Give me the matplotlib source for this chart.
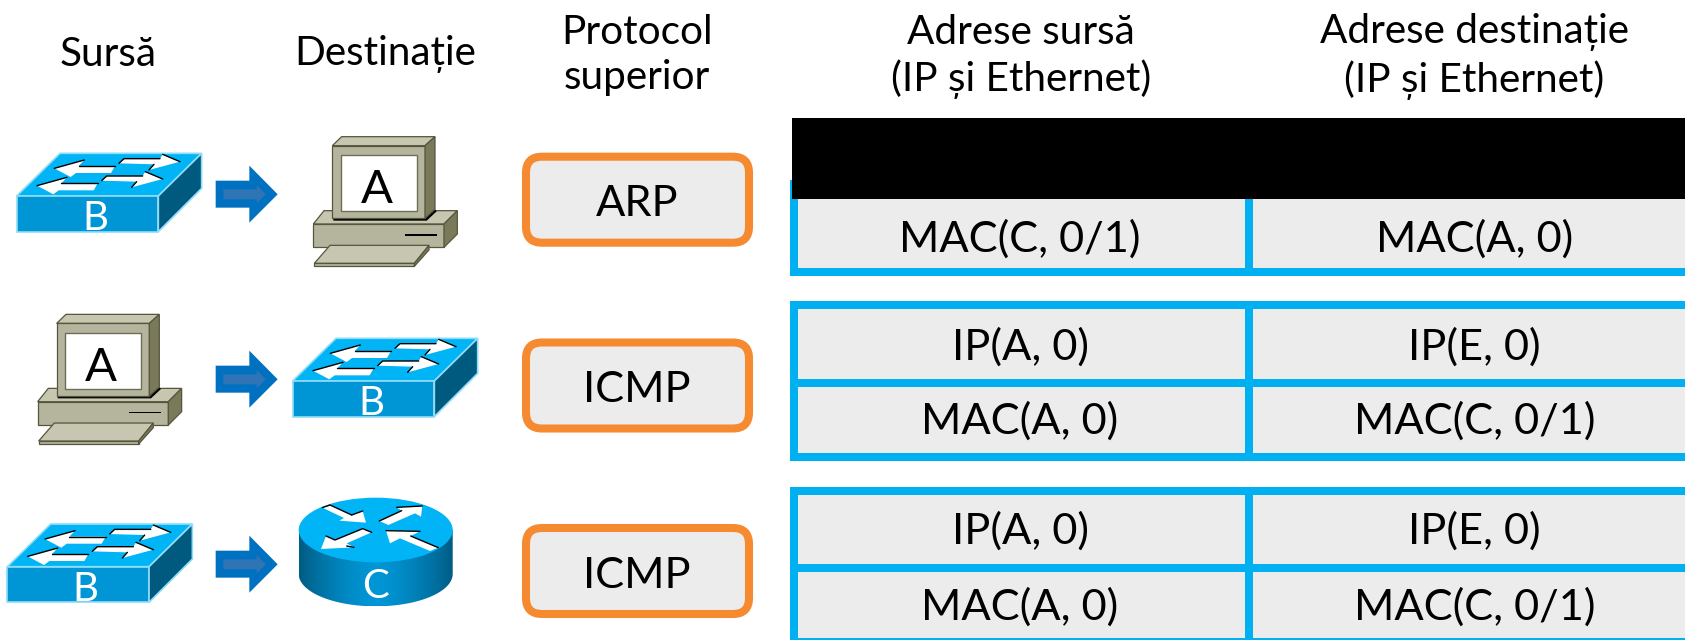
import numpy as np
import matplotlib
matplotlib.use("Agg")
import matplotlib.pyplot as plt
from matplotlib.patches import Polygon, Rectangle, FancyBboxPatch, Ellipse, PathPatch
from matplotlib.path import Path

plt.rcParams["font.family"] = ["Lato", "DejaVu Sans"]

# Texte
antete = ["Sursă", "Destinație", "Protocol\nsuperior",
          "Adrese sursă\n(IP și Ethernet)", "Adrese destinație\n(IP și Ethernet)"]
protocoale = ["ARP", "ICMP", "ICMP"]
adrese_sursa = [["", "MAC(C, 0/1)"], ["IP(A, 0)", "MAC(A, 0)"], ["IP(A, 0)", "MAC(A, 0)"]]
adrese_dest = [["", "MAC(A, 0)"], ["IP(E, 0)", "MAC(C, 0/1)"], ["IP(E, 0)", "MAC(C, 0/1)"]]

ALBASTRU = "#00B0F0"
GRI = "#ECECEC"
PORTOCALIU = "#F68A31"

fig = plt.figure(figsize=(16.85, 6.40), dpi=100)
ax = fig.add_axes([0, 0, 1, 1])
ax.set_xlim(0, 1685)
ax.set_ylim(640, 0)
ax.axis("off")


# punctele de mai jos sunt luate din crop-uri marite de 3 ori
def poligon(puncte, dx, dy, **kw):
    p = np.array(puncte, dtype=float) / 3 + [dx, dy]
    ax.add_patch(Polygon(p, closed=True, **kw))


def linie(puncte, dx, dy, **kw):
    s = np.array(puncte, dtype=float) / 3 + [dx, dy]
    ax.plot(s[:, 0], s[:, 1], color="black", solid_capstyle="round", **kw)


def desen_switch(dx, dy):
    muchie = "#8FDDF7"
    poligon([(50, 258), (180, 130), (605, 130), (475, 258)], dx, dy, fc="#00B4F5", ec=muchie, lw=1.2)
    poligon([(50, 258), (475, 258), (475, 365), (50, 365)], dx, dy, fc="#0096D6", ec=muchie, lw=1.2)
    poligon([(475, 258), (605, 130), (605, 235), (475, 365)], dx, dy, fc="#005A80", ec=muchie, lw=1.2)
    for ox, oy in [(0, 0), (-52, 52)]:
        stanga = [(163 + ox, 175 + oy), (253 + ox, 150 + oy), (236 + ox, 168 + oy), (345 + ox, 168 + oy),
                  (333 + ox, 189 + oy), (228 + ox, 189 + oy), (212 + ox, 201 + oy)]
        dreapta = [(357 + ox, 160 + oy), (372 + ox, 146 + oy), (480 + ox, 146 + oy), (488 + ox, 133 + oy),
                   (540 + ox, 155 + oy), (447 + ox, 180 + oy), (462 + ox, 163 + oy)]
        poligon(stanga, dx, dy, fc="white", ec="none")
        poligon(dreapta, dx, dy, fc="white", ec="none")
        for sir in [stanga[:2], stanga[2:4], dreapta[:3], dreapta[3:5], dreapta[5:7]]:
            linie(sir, dx, dy, lw=1.0)
    ax.text(285 / 3 + dx, 316 / 3 + dy, "B", color="white", fontsize=29, ha="center", va="center_baseline")


def desen_sageata(dy):
    poligon([(647, 212), (748, 212), (748, 167), (833, 253), (748, 338), (748, 293), (647, 293)],
            0, dy, fc="#0070C0", ec="none")
    poligon([(670, 238), (770, 238), (770, 225), (798, 253), (770, 280), (770, 268), (670, 268)],
            0, dy, fc="#2F74B5", ec="none")


def desen_pc(dx, dy):
    fata = "#B5B49C"
    sus = "#C7C6B0"
    lateral = "#7A7A5A"
    muchie = "#56563F"
    kw = dict(ec=muchie, lw=0.9)
    poligon([(940, 342), (972, 302), (1372, 302), (1332, 342)], dx, dy, fc=sus, **kw)
    poligon([(940, 342), (1332, 342), (1332, 412), (940, 412)], dx, dy, fc=fata, **kw)
    poligon([(1332, 342), (1372, 302), (1372, 372), (1332, 412)], dx, dy, fc=lateral, **kw)
    poligon([(1000, 325), (1275, 325), (1305, 298), (1310, 304), (1280, 332), (1000, 332)], dx, dy, fc="black", ec="none")
    poligon([(997, 107), (1025, 80), (1305, 80), (1275, 107)], dx, dy, fc=sus, **kw)
    poligon([(997, 107), (1275, 107), (1275, 325), (997, 325)], dx, dy, fc=fata, **kw)
    poligon([(1275, 107), (1305, 80), (1305, 298), (1275, 325)], dx, dy, fc=lateral, **kw)
    poligon([(1022, 135), (1250, 135), (1250, 303), (1022, 303)], dx, dy, fc="white", ec="#6E6E58", lw=1.0)
    poligon([(1215, 372), (1310, 372), (1310, 377), (1215, 377)], dx, dy, fc="black", ec="none")
    poligon([(943, 460), (990, 406), (1287, 406), (1243, 460)], dx, dy, fc=sus, **kw)
    poligon([(943, 460), (1243, 460), (1243, 469), (943, 469)], dx, dy, fc=fata, **kw)
    poligon([(1243, 460), (1287, 406), (1287, 420), (1243, 469)], dx, dy, fc=lateral, **kw)
    ax.text(1130 / 3 + dx, 228 / 3 + dy, "A", color="black", fontsize=34, ha="center", va="center_baseline")


def desen_router(cx, y_sus, y_jos):
    rx, ry = 231 / 3, 97 / 3
    # corpul cu gradient pe orizontala
    t = np.linspace(-1, 1, 256)
    grad = np.abs(t) ** 1.5
    c1 = np.array([0, 150, 214]) / 255
    c2 = np.array([0, 92, 132]) / 255
    img = (c1[None, :] * (1 - grad[:, None]) + c2[None, :] * grad[:, None])[None, :, :]
    u = np.linspace(np.pi, 0, 60)
    jos = np.column_stack([cx + rx * np.cos(u), y_jos + ry * np.sin(u)])
    contur = np.vstack([[[cx - rx, y_sus]], jos, [[cx + rx, y_sus]], [[cx - rx, y_sus]]])
    forma = PathPatch(Path(contur), fc="none", ec="none")
    ax.add_patch(forma)
    im = ax.imshow(img, extent=[cx - rx, cx + rx, y_jos + ry, y_sus], aspect="auto", zorder=1)
    im.set_clip_path(forma)
    ax.add_patch(Ellipse((cx, y_sus), 2 * rx, 2 * ry, fc="#00B4F5", ec="none", zorder=2))
    # crop separat, pornit de la (290, 490)
    sageti = [
        [(97, 53), (120, 45), (185, 75), (218, 63), (228, 98), (148, 92), (162, 84)],
        [(268, 93), (335, 62), (320, 52), (397, 48), (393, 80), (375, 70), (295, 105)],
        [(245, 127), (218, 116), (135, 150), (108, 138), (93, 177), (192, 172), (170, 160)],
        [(288, 122), (390, 124), (362, 138), (445, 173), (420, 183), (330, 145), (300, 160)],
    ]
    for s in sageti:
        p = np.array(s, dtype=float) / 3 + [290, 490]
        ax.add_patch(Polygon(p, closed=True, fc="white", ec="none", zorder=3))
    muchii = [
        [(97, 53), (120, 45), (185, 75)], [(185, 75), (218, 63)],
        [(268, 93), (335, 62)], [(320, 52), (397, 48)],
        [(108, 138), (135, 150), (218, 116), (245, 127)], [(170, 168), (192, 172)],
        [(288, 122), (390, 124)], [(362, 138), (445, 173)],
    ]
    for m in muchii:
        linie(m, 290, 490, lw=1.0, zorder=4)
    ax.text(cx, y_jos + 9.5, "C", color="white", fontsize=29, ha="center", va="center_baseline", zorder=5)


def desen_tabel(y_sus, y_mij, y_jos, y_text, randuri_s, randuri_d, ascuns=False):
    g = 8
    st, mij, dr = 790, 1244.5, 1686
    ax.add_patch(Rectangle((st, y_sus), dr - st, y_jos - y_sus, fc=GRI, ec="none", zorder=1))
    bare = [(st, y_sus, g, y_jos - y_sus), (mij, y_sus, g, y_jos - y_sus),
            (st, y_sus, dr - st, g), (st, y_mij, dr - st, g), (st, y_jos - g, dr - st, g)]
    for x, y, w, h in bare:
        ax.add_patch(Rectangle((x, y), w, h, fc=ALBASTRU, ec="none", zorder=2))
    if ascuns:
        ax.add_patch(Rectangle((791.5, 118), 895, 81, fc="black", ec="none", zorder=3))
    for rand in range(2):
        ax.text(1020, y_text[rand], randuri_s[rand], fontsize=31.2, ha="center", va="center_baseline", zorder=4)
        ax.text(1474.5, y_text[rand], randuri_d[rand], fontsize=31.2, ha="center", va="center_baseline", zorder=4)


# Antete
x_antet = [108.5, 385, 637, 1021, 1474]
y_antet = [55, 54, 55, 56.5, 56.5]
for x, y, t in zip(x_antet, y_antet, antete):
    ax.text(x, y, t, fontsize=29.2, ha="center", va="center", linespacing=1.275)

# Randuri
desen_switch(0, 110)
desen_sageata(110)
desen_pc(0, 110)

desen_pc(-275.7, 287.7)
desen_sageata(295)
desen_switch(276, 295)

desen_switch(-9.3, 480.7)
desen_sageata(480)
desen_router(375.7, 530, 574)

# Protocol
for y, t in zip([152.7, 338.5, 524], protocoale):
    ax.add_patch(FancyBboxPatch((526 + 18, y + 4 + 18), 223 - 36, 86 - 36, boxstyle="round,pad=18,rounding_size=16",
                                fc=GRI, ec=PORTOCALIU, lw=5.8))
    ax.text(637, y + 48, t, fontsize=31.2, ha="center", va="center_baseline")

# Tabele adrese
desen_tabel(180, 191, 276, [0, 235.5], adrese_sursa[0], adrese_dest[0], ascuns=True)
desen_tabel(301, 379, 461, [344, 418], adrese_sursa[1], adrese_dest[1])
desen_tabel(487, 564, 646, [527.5, 604], adrese_sursa[2], adrese_dest[2])

ax.set_xlim(0, 1685)
ax.set_ylim(640, 0)
fig.savefig("out.png", dpi=100, facecolor="white")
